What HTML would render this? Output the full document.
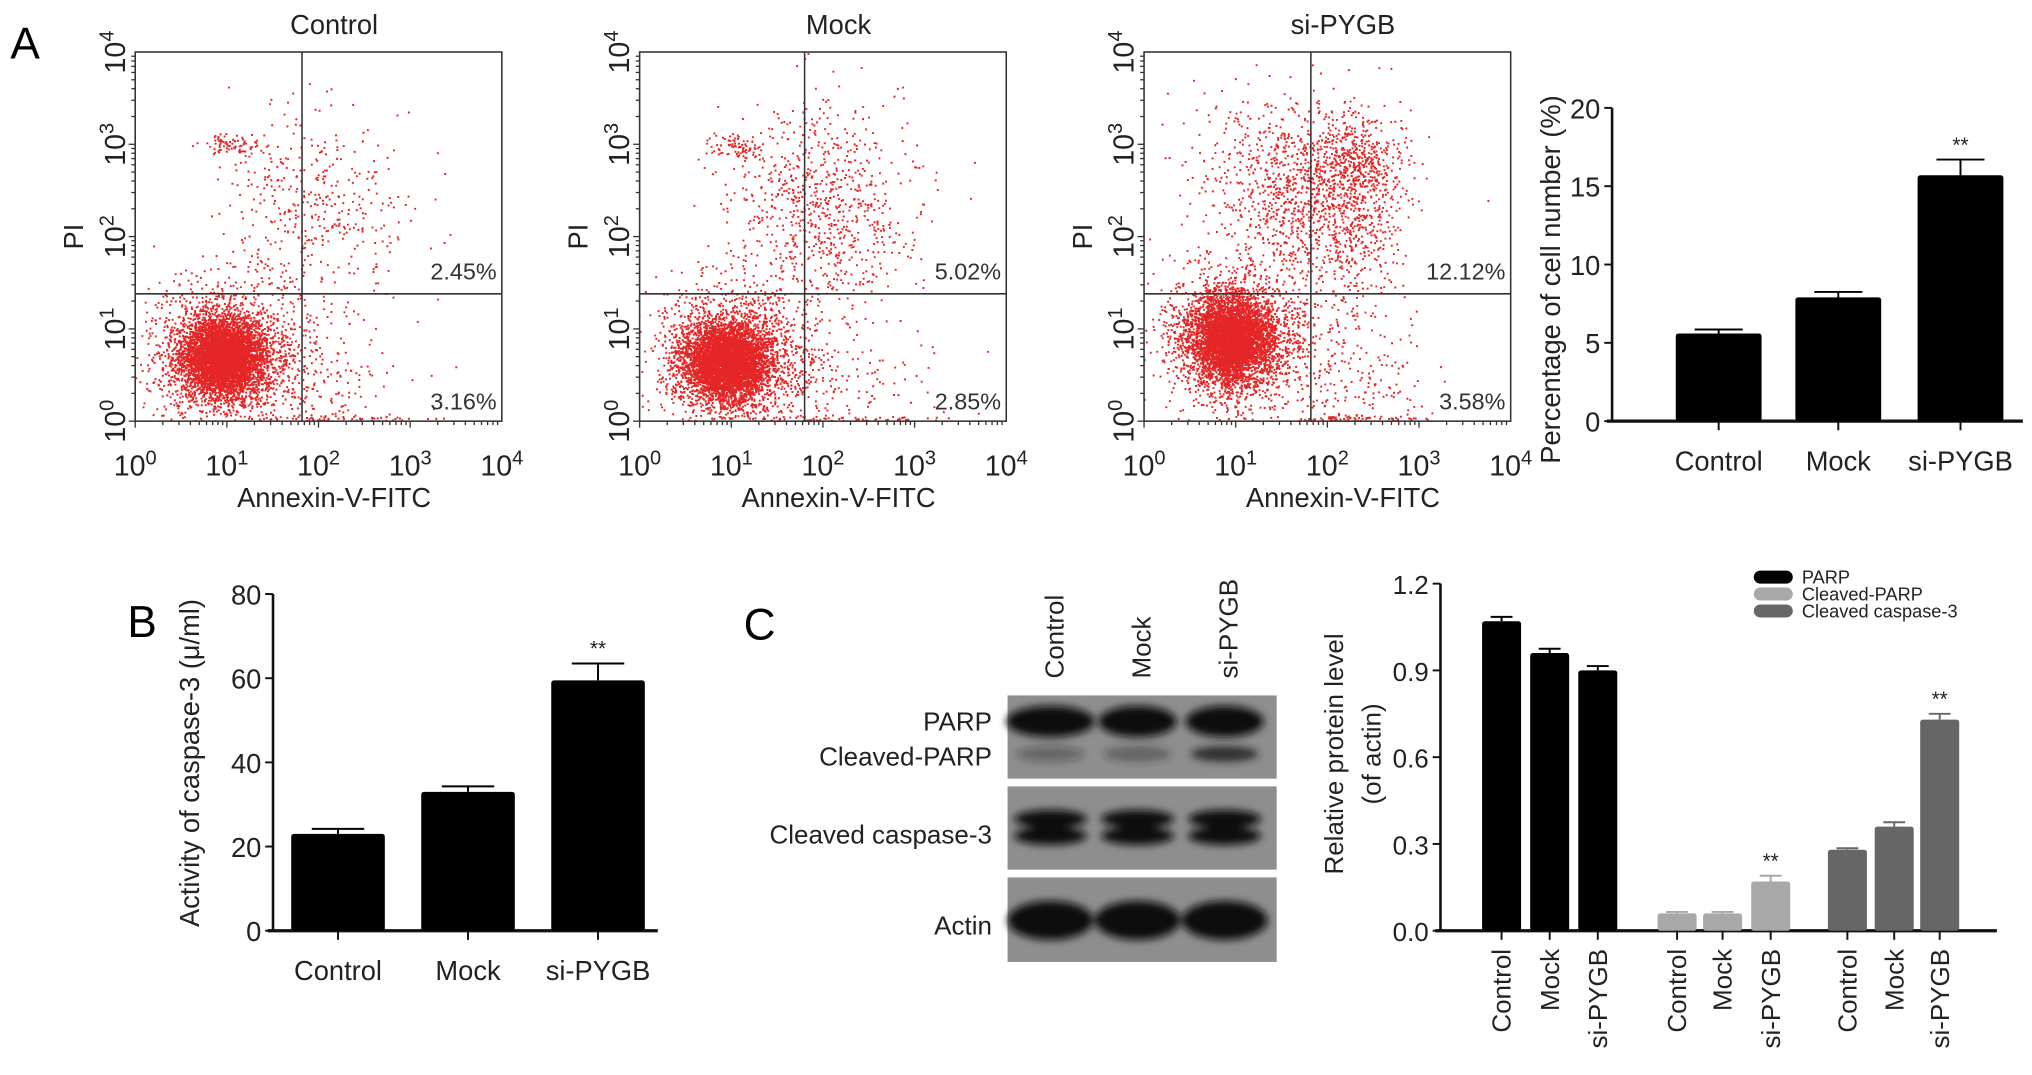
<!DOCTYPE html>
<html><head><meta charset="utf-8"><style>
html,body{margin:0;padding:0;background:#fff;}
svg{display:block;font-family:"Liberation Sans",Arial,sans-serif;}
</style></head><body>
<svg id="fig" width="2032" height="1075" viewBox="0 0 1563 827" preserveAspectRatio="none" xmlns="http://www.w3.org/2000/svg">
<defs><filter id="blur" x="-20%" y="-50%" width="140%" height="200%"><feGaussianBlur stdDeviation="3"/></filter></defs>
<rect width="1563" height="827" fill="#fff"/>
<text x="8" y="45" font-size="34">A</text>
<text x="98" y="490" font-size="34">B</text>
<text x="572" y="492" font-size="34">C</text>
<g id="root"></g>
</svg>
<script>
// ---------- data ----------
const flowTitles = ["Control","Mock","si-PYGB"];
const flowUpperRight = ["2.45%","5.02%","12.12%"];
const flowLowerRight = ["3.16%","2.85%","3.58%"];
const flowGateX = [1.82,1.8,1.82];   // log10 units
const flowGateY = [1.38,1.38,1.38];
// clusters: [cx, cy, sx, sy, n] in log10 units
const flowClusters = [
  [[0.95,0.7,0.22,0.2,4500],[1.0,0.72,0.42,0.38,1800],[1.9,2.3,0.5,0.55,420],[1.05,3.0,0.18,0.07,80],[2.1,0.4,0.55,0.35,160],[2.2,0.03,0.5,0.02,70]],
  [[0.95,0.65,0.22,0.2,4500],[1.0,0.7,0.42,0.38,1800],[2.0,2.3,0.5,0.55,800],[1.05,3.0,0.15,0.07,80],[2.1,0.4,0.55,0.35,150],[2.2,0.03,0.5,0.02,70]],
  [[0.95,0.9,0.22,0.23,4200],[1.0,0.9,0.42,0.4,1600],[1.7,2.5,0.5,0.5,1100],[2.35,2.8,0.25,0.25,400],[2.3,2.0,0.3,0.5,280],[2.2,0.4,0.5,0.35,170],[2.3,0.03,0.4,0.02,70]]
];
const pctCats = ["Control","Mock","si-PYGB"];
const pctVals = [5.6,7.9,15.7];
const pctErr = [0.25,0.35,1.0];
const pctTicks = [0,5,10,15,20];
const casCats = ["Control","Mock","si-PYGB"];
const casVals = [23,33,59.5];
const casErr = [1.2,1.3,4.0];
const casTicks = [0,20,40,60,80];
const protSeries = ["PARP","Cleaved-PARP","Cleaved caspase-3"];
const protCats = ["Control","Mock","si-PYGB"];
const protParp = [1.07,0.96,0.90];
const protCleavedParp = [0.06,0.06,0.17];
const protCaspase = [0.28,0.36,0.73];
const protErrParp = [0.015,0.015,0.015];
const protErrCleavedParp = [0.005,0.005,0.02];
const protErrCaspase = [0.005,0.015,0.02];
const protTicks = ["0.0","0.3","0.6","0.9","1.2"];

// ---------- helpers ----------
const NS="http://www.w3.org/2000/svg";
const root=document.getElementById('root');
function mk(tag,attrs,parent,txt){const e=document.createElementNS(NS,tag);for(const k in attrs)e.setAttribute(k,attrs[k]);if(txt!==undefined)e.textContent=txt;(parent||root).appendChild(e);return e;}
function rng(seed){return function(){seed|=0;seed=seed+0x6D2B79F5|0;let t=Math.imul(seed^seed>>>15,1|seed);t=t+Math.imul(t^t>>>7,61|t)^t;return((t^t>>>14)>>>0)/4294967296;};}
function supText(parent,x,y,base,exp,size,anchor,rot){
  const t=mk('text',{x:x,y:y,'font-size':size,'text-anchor':anchor||'middle',fill:'#222'},parent);
  if(rot)t.setAttribute('transform',rot);
  mk('tspan',{},t,base);mk('tspan',{dy:-size*0.4,'font-size':size*0.7},t,exp);return t;}

// ---------- flow plots ----------
const flowX=[104,492,880], W=282, Y0=40, H=284;
flowTitles.forEach((title,i)=>{
  const g=mk('g',{});
  
  
  const x0=flowX[i];
  const sx=v=>x0+v/4*W, sy=v=>Y0+H-v/4*H;
  const clipId='clip'+i;
  const cp=mk('clipPath',{id:clipId},g);mk('rect',{x:x0,y:Y0,width:W,height:H},cp);
  const r=rng(1234+i*77);
  let d='';
  flowClusters[i].forEach(c=>{
    for(let k=0;k<c[4];k++){
      const u=Math.max(1e-9,r()),v=r();const m=Math.sqrt(-2*Math.log(u));
      const gx=m*Math.cos(2*Math.PI*v),gy=m*Math.sin(2*Math.PI*v);
      const px=sx(c[0]+gx*c[2]),py=sy(Math.max(0,c[1]+gy*c[3]));
      d+='M'+px.toFixed(1)+' '+py.toFixed(1)+'h1.5v1.5h-1.5z';
    }
  });
  const pts=mk('path',{d:d,fill:'#e00000','fill-opacity':'0.85','clip-path':'url(#'+clipId+')'},g);
  
  
  mk('rect',{x:x0,y:Y0,width:W,height:H,fill:'none',stroke:'#333','stroke-width':1.2},g);
  mk('line',{x1:sx(flowGateX[i]),x2:sx(flowGateX[i]),y1:Y0,y2:Y0+H,stroke:'#333','stroke-width':1.2},g);
  mk('line',{x1:x0,x2:x0+W,y1:sy(flowGateY[i]),y2:sy(flowGateY[i]),stroke:'#333','stroke-width':1.2},g);
  for(let dec=0;dec<4;dec++)for(let m=1;m<10;m++){const lv=dec+Math.log10(m);const L=m==1?5:3;
    mk('line',{x1:sx(lv),x2:sx(lv),y1:Y0+H,y2:Y0+H+L,stroke:'#333','stroke-width':1},g);
    mk('line',{x1:x0,x2:x0-L,y1:sy(lv),y2:sy(lv),stroke:'#333','stroke-width':1},g);}
  for(let k=0;k<=4;k++){
    supText(g,sx(k),Y0+H+42,'10',String(k),22,'middle');
    supText(g,x0-8,sy(k),'10',String(k),22,'middle','rotate(-90 '+(x0-8)+' '+sy(k)+')');
  }
  const tt=mk('text',{x:x0+W/2+12,y:26,'font-size':21,'text-anchor':'middle',fill:'#222'},g,title);
  
  mk('text',{x:x0+W/2+12,y:390,'font-size':21,'text-anchor':'middle',fill:'#222'},g,'Annexin-V-FITC');
  mk('text',{x:x0-40,y:Y0+H/2,'font-size':21,'text-anchor':'middle',fill:'#222',transform:'rotate(-90 '+(x0-40)+' '+(Y0+H/2)+')'},g,'PI');
  mk('text',{x:x0+W-4,y:215,'font-size':18,'text-anchor':'end',fill:'#333'},g,flowUpperRight[i]);
  mk('text',{x:x0+W-4,y:315,'font-size':18,'text-anchor':'end',fill:'#333'},g,flowLowerRight[i]);
});

// ---------- generic bar chart ----------
function barChart(o){
  const g=mk('g',{});
  
  
  const sy=v=>o.y0-(v-o.min)/(o.max-o.min)*(o.y0-o.y1);
  mk('line',{x1:o.ax,x2:o.ax,y1:o.y1,y2:o.y0,stroke:'#111','stroke-width':2},g);
  mk('line',{x1:o.ax-4,x2:o.axEnd,y1:o.y0,y2:o.y0,stroke:'#111','stroke-width':2.5},g);
  o.ticks.forEach(t=>{const v=parseFloat(t);
    mk('line',{x1:o.ax-6,x2:o.ax,y1:sy(v),y2:sy(v),stroke:'#111','stroke-width':1.5},g);
    const tl=mk('text',{x:o.ax-9,y:sy(v)+8,'font-size':o.fs,'text-anchor':'end',fill:'#222'},g,String(t));
    });
  o.bars.forEach(b=>{
    const top=sy(b.v);
    mk('line',{x1:b.cx,x2:b.cx,y1:top,y2:sy(b.v+b.e),stroke:b.color,'stroke-width':1.5},g);
    mk('line',{x1:b.cx-b.w*0.28,x2:b.cx+b.w*0.28,y1:sy(b.v+b.e),y2:sy(b.v+b.e),stroke:b.color,'stroke-width':1.5},g);
    const br=mk('rect',{x:b.cx-b.w/2,y:top,width:b.w,height:o.y0-top,fill:b.color,rx:2},g);
    
    
    mk('line',{x1:b.cx,x2:b.cx,y1:o.y0,y2:o.y0+7,stroke:'#111','stroke-width':1.5},g);
    if(b.star){const s=mk('text',{x:b.cx,y:sy(b.v+b.e)-6,'font-size':16,'text-anchor':'middle',fill:'#222'},g,'**');
      }
    if(o.rotLabels){const lx=b.cx+7,ly=o.y0+14;
      mk('text',{x:lx,y:ly,'font-size':o.fs,'text-anchor':'end',fill:'#222',transform:'rotate(-90 '+lx+' '+ly+')'},g,b.label);}
    else mk('text',{x:b.cx,y:o.y0+38,'font-size':o.fs,'text-anchor':'middle',fill:'#222'},g,b.label);
  });
  o.ylabel.forEach((l,k)=>{const t=mk('text',{x:l.x,y:o.ylabelY,'font-size':o.fs,'text-anchor':'middle',fill:'#222',transform:'rotate(-90 '+l.x+' '+o.ylabelY+')'},g,l.t);
    });
  return g;
}
const pctX=[1322,1414,1508];
barChart({name:'percentage-bar-chart',ax:1240,axEnd:1556,y0:324,y1:83,min:0,max:20,ticks:pctTicks,fs:21,ylabelY:215,
  ylabel:[{x:1200,t:'Percentage of cell number (%)'}],
  bars:pctCats.map((c,i)=>({label:c,v:pctVals[i],e:pctErr[i],cx:pctX[i],w:66,color:'#000',star:i==2}))});
const casX=[260,360,460];
barChart({name:'caspase-activity-chart',ax:210,axEnd:506,y0:716,y1:457,min:0,max:80,ticks:casTicks,fs:21,ylabelY:587,
  ylabel:[{x:153,t:'Activity of caspase-3 (\u03bc/ml)'}],
  bars:casCats.map((c,i)=>({label:c,v:casVals[i],e:casErr[i],cx:casX[i],w:72,color:'#000',star:i==2}))});
const protColors=['#000','#a8a8a8','#666'];
const protVals=[protParp,protCleavedParp,protCaspase], protErr=[protErrParp,protErrCleavedParp,protErrCaspase];
const groupX=[[1155,1192,1229],[1290,1325,1362],[1421,1457,1492]];
let pb=[];
protVals.forEach((arr,s)=>arr.forEach((v,i)=>pb.push({label:protCats[i],v:v,e:protErr[s][i],cx:groupX[s][i],w:30,color:protColors[s],star:(s>0&&i==2)})));
barChart({name:'protein-level-chart',ax:1108,axEnd:1536,y0:716,y1:449,min:0,max:1.2,ticks:protTicks,fs:20,ylabelY:580,rotLabels:true,
  ylabel:[{x:1033,t:'Relative protein level'},{x:1062,t:'(of actin)'}],bars:pb});
const lg=mk('g',{});


protSeries.forEach((s,i)=>{const y=444+i*13;
  mk('rect',{x:1349,y:y-5,width:30,height:10,rx:5,fill:protColors[i]},lg);
  const t=mk('text',{x:1386,y:y+5,'font-size':14,fill:'#222'},lg,s);
  });

// ---------- western blot ----------
const blot=mk('g',{});


const laneX=[808,875,942];
const blotRows=[[535,599],[605,669],[675,740]];
blotRows.forEach(r=>mk('rect',{x:775,y:r[0],width:207,height:r[1]-r[0],fill:'#8e8e8e'},blot));
const bandG=mk('g',{filter:'url(#blur)'},blot);
const parpW=[34,30,30], cpA=[0.35,0.4,0.85];
laneX.forEach((x,i)=>{
  mk('ellipse',{cx:x,cy:555,rx:parpW[i],ry:12,fill:'#111'},bandG);
  mk('ellipse',{cx:x,cy:580,rx:26,ry:6,fill:'#222','fill-opacity':cpA[i]},bandG);
  mk('ellipse',{cx:x,cy:630,rx:28,ry:7,fill:'#111'},bandG);
  mk('ellipse',{cx:x,cy:643,rx:28,ry:7,fill:'#111'},bandG);
  mk('ellipse',{cx:x,cy:708,rx:33,ry:15,fill:'#111'},bandG);
});
[["PARP",555],["Cleaved-PARP",582],["Cleaved caspase-3",642],["Actin",712]].forEach(l=>{
  const t=mk('text',{x:763,y:l[1]+7,'font-size':20,'text-anchor':'end',fill:'#222'},blot,l[0]);
  });
["Control","Mock","si-PYGB"].forEach((l,i)=>{const x=laneX[i]+10,y=522;
  const t=mk('text',{x:x,y:y,'font-size':20,'text-anchor':'start',fill:'#222',transform:'rotate(-90 '+x+' '+y+')'},blot,l);
  });
</script>
</body></html>
